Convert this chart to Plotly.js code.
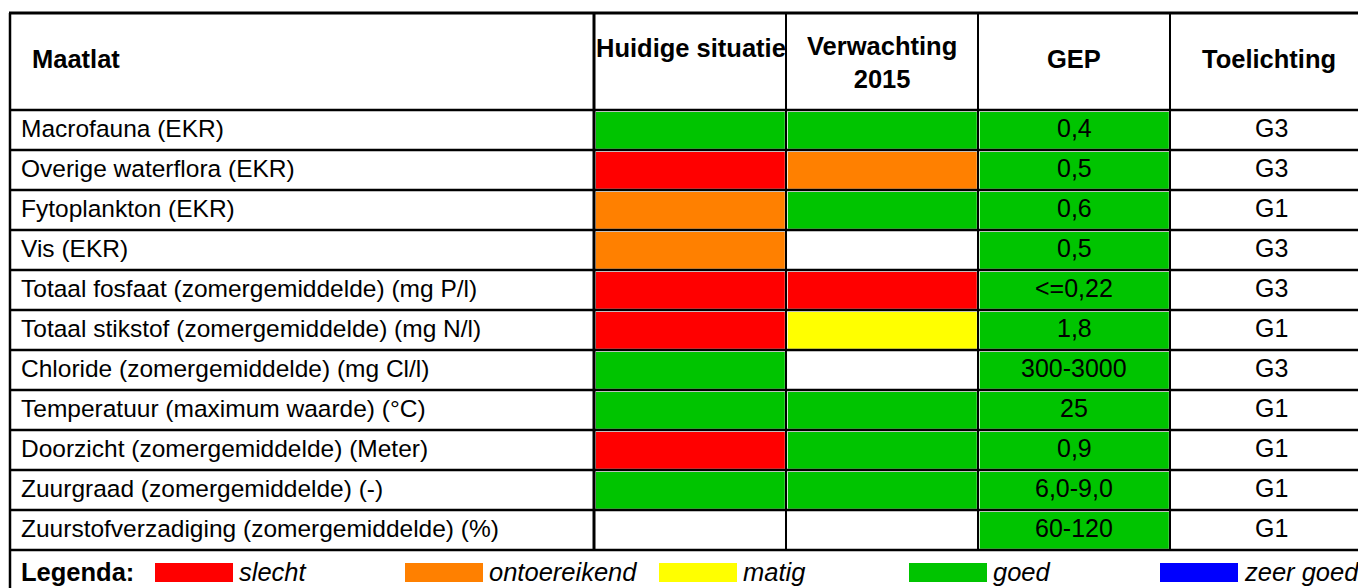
<!DOCTYPE html>
<html>
<head>
<meta charset="utf-8">
<script src="https://cdn.plot.ly/plotly-3.0.1.min.js"></script>
<style>html,body{margin:0;padding:0;background:#fff;}#chart{width:1358px;height:588px;}</style>
</head>
<body>
<div id="chart"></div>
<script>
// ---- data ----
var headers = ['Maatlat', 'Huidige situatie', 'Verwachting<br>2015', 'GEP', 'Toelichting'];
var maatlat = [
  'Macrofauna (EKR)',
  'Overige waterflora (EKR)',
  'Fytoplankton (EKR)',
  'Vis (EKR)',
  'Totaal fosfaat (zomergemiddelde) (mg P/l)',
  'Totaal stikstof (zomergemiddelde) (mg N/l)',
  'Chloride (zomergemiddelde) (mg Cl/l)',
  'Temperatuur (maximum waarde) (°C)',
  'Doorzicht (zomergemiddelde) (Meter)',
  'Zuurgraad (zomergemiddelde) (-)',
  'Zuurstofverzadiging (zomergemiddelde) (%)'
];
var huidige = ['goed', 'slecht', 'ontoereikend', 'ontoereikend', 'slecht', 'slecht', 'goed', 'goed', 'slecht', 'goed', ''];
var verwachting = ['goed', 'ontoereikend', 'goed', '', 'slecht', 'matig', '', 'goed', 'goed', 'goed', ''];
var gepStatus = ['goed', 'goed', 'goed', 'goed', 'goed', 'goed', 'goed', 'goed', 'goed', 'goed', 'goed'];
var gepValues = ['0,4', '0,5', '0,6', '0,5', '<=0,22', '1,8', '300-3000', '25', '0,9', '6,0-9,0', '60-120'];
var toelichting = ['G3', 'G3', 'G1', 'G3', 'G3', 'G1', 'G3', 'G1', 'G1', 'G1', 'G1'];
var legendTitle = 'Legenda:';
var legendLabels = ['slecht', 'ontoereikend', 'matig', 'goed', 'zeer goed'];

// ---- styling / layout ----
var statusColors = {
  'slecht': '#FF0000',
  'ontoereikend': '#FF8000',
  'matig': '#FFFF00',
  'goed': '#00C400',
  'zeer goed': '#0000FF'
};
var W = 1358, H = 588;
var colEdges = [10, 594, 786, 978, 1170, 1366];
var tableTop = 13, headerBottom = 110, rowH = 40;
var nRows = maatlat.length;
var tableBottom = headerBottom + nRows * rowH;
var FONT = 'Liberation Sans, Arial, sans-serif';
var firstColSize = 24.5, cellSize = 25, headSize = 25.5, legSize = 25.5;

var shapes = [];
var annotations = [];

function rowTop(i) { return headerBottom + i * rowH; }

// colored cells
var colored = [huidige, verwachting, gepStatus];
colored.forEach(function (col, c) {
  col.forEach(function (st, i) {
    if (!st) return;
    shapes.push({
      type: 'rect', xref: 'x', yref: 'y', layer: 'below',
      x0: colEdges[c + 1] + 1.8, x1: colEdges[c + 2] - 1.2,
      y0: rowTop(i) + 2, y1: rowTop(i + 1) - 1.2,
      fillcolor: statusColors[st], line: {width: 0}
    });
  });
});

// horizontal lines
var hl = [tableTop, headerBottom];
for (var i = 1; i <= nRows; i++) hl.push(rowTop(i));
hl.forEach(function (y, k) {
  shapes.push({type: 'line', xref: 'x', yref: 'y', x0: colEdges[0] - 1, x1: W, y0: y, y1: y,
    line: {color: '#000', width: (k === 0) ? 3 : 2.5}});
});
// vertical lines
shapes.push({type: 'line', xref: 'x', yref: 'y', x0: colEdges[0], x1: colEdges[0], y0: tableTop, y1: H,
  line: {color: '#000', width: 2.5}});
[1, 2, 3, 4].forEach(function (c) {
  shapes.push({type: 'line', xref: 'x', yref: 'y', x0: colEdges[c], x1: colEdges[c], y0: tableTop, y1: tableBottom,
    line: {color: '#000', width: c === 1 ? 3 : 2}});
});

// header texts
var headX = [30, 594, (colEdges[2] + colEdges[3]) / 2, (colEdges[3] + colEdges[4]) / 2, 1269];
var headAnchor = ['left', 'left', 'center', 'center', 'center'];
var headY = [59, 48, 62, 59, 59];
headers.forEach(function (h, c) {
  annotations.push({
    xref: 'x', yref: 'y', x: headX[c], y: headY[c], text: '<b>' + h + '</b>', showarrow: false,
    xanchor: headAnchor[c], yanchor: 'middle', align: 'center',
    font: {family: FONT, size: headSize, color: '#000'}
  });
});

// body texts
for (var i = 0; i < nRows; i++) {
  var yc = rowTop(i) + rowH / 2 - 2;
  annotations.push({xref: 'x', yref: 'y', x: 19, y: yc, text: maatlat[i], showarrow: false,
    xanchor: 'left', yanchor: 'middle', font: {family: FONT, size: firstColSize, color: '#000'}});
  annotations.push({xref: 'x', yref: 'y', x: (colEdges[3] + colEdges[4]) / 2, y: yc, text: gepValues[i], showarrow: false,
    xanchor: 'center', yanchor: 'middle', font: {family: FONT, size: cellSize, color: '#000'}});
  annotations.push({xref: 'x', yref: 'y', x: 1271, y: yc, text: toelichting[i], showarrow: false,
    xanchor: 'center', yanchor: 'middle', font: {family: FONT, size: cellSize, color: '#000'}});
}

// legend row
var legY = 572;
annotations.push({xref: 'x', yref: 'y', x: 19, y: legY, text: '<b>' + legendTitle + '</b>', showarrow: false,
  xanchor: 'left', yanchor: 'middle', font: {family: FONT, size: headSize, color: '#000'}});
var swX = [155, 405, 659, 909, 1160];
legendLabels.forEach(function (lab, k) {
  shapes.push({type: 'rect', xref: 'x', yref: 'y', x0: swX[k], x1: swX[k] + 78, y0: 563, y1: 582,
    fillcolor: statusColors[lab], line: {width: 0}});
  annotations.push({xref: 'x', yref: 'y', x: swX[k] + 82, y: legY, text: '<i>' + lab + '</i>', showarrow: false,
    xanchor: 'left', yanchor: 'middle', font: {family: FONT, size: legSize, color: '#000'}});
});

var layout = {
  width: W, height: H,
  margin: {l: 0, r: 0, t: 0, b: 0, pad: 0},
  paper_bgcolor: '#fff', plot_bgcolor: '#fff',
  showlegend: false,
  xaxis: {range: [0, W], visible: false, fixedrange: true},
  yaxis: {range: [H, 0], visible: false, fixedrange: true},
  shapes: shapes,
  annotations: annotations
};
Plotly.newPlot('chart', [{type: 'scatter', x: [], y: [], mode: 'markers', hoverinfo: 'skip'}], layout, {staticPlot: true, displayModeBar: false});
</script>
</body>
</html>
